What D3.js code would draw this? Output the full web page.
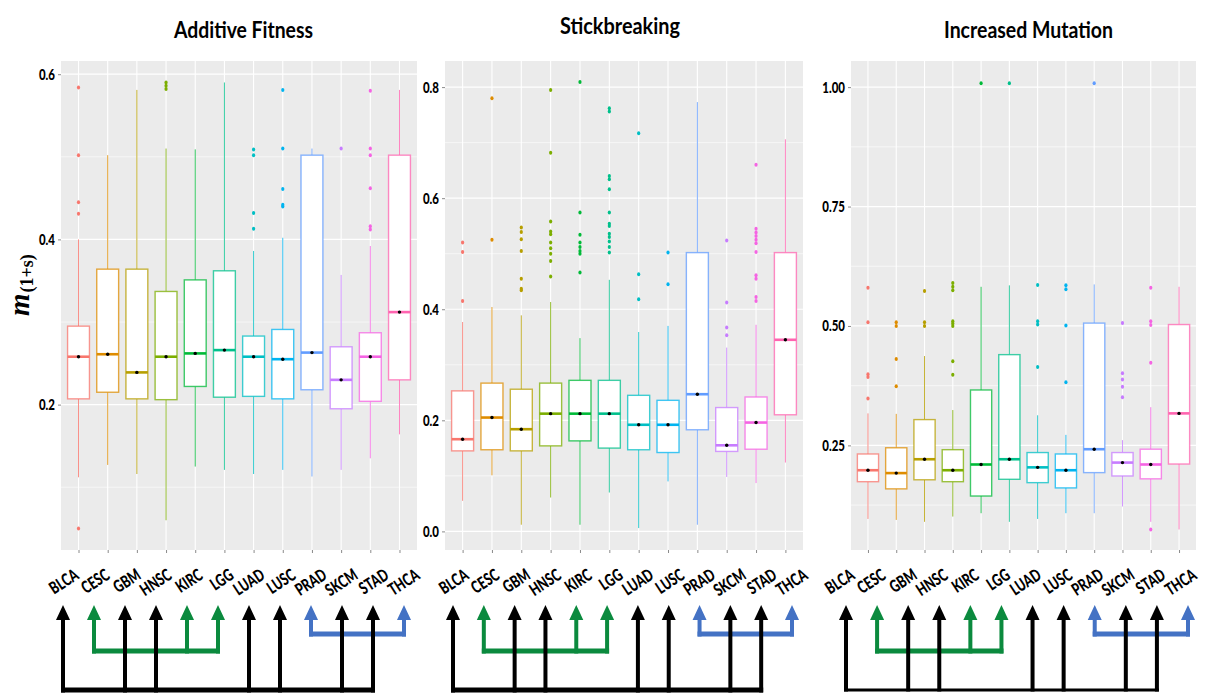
<!DOCTYPE html>
<html>
<head>
<meta charset="utf-8">
<script src="https://cdn.jsdelivr.net/npm/d3@7"></script>
<style>
  body { margin: 0; background: #fff; }
  svg { display: block; }
</style>
</head>
<body>
<svg id="chart" width="1210" height="693"></svg>
<script>
// Cancer types, in plotting order
const cancers = ["BLCA", "CESC", "GBM", "HNSC", "KIRC", "LGG", "LUAD", "LUSC", "PRAD", "SKCM", "STAD", "THCA"];
const palette = ["#F8766D", "#DE8C00", "#B79F00", "#7CAE00", "#00BA38", "#00C08B",
                 "#00BFC4", "#00B4F0", "#619CFF", "#C77CFF", "#F564E3", "#FF64B0"];

// Box statistics per cancer: [lower whisker, Q1, median, Q3, upper whisker]
const additiveStats = [
  [0.112, 0.207, 0.258, 0.295, 0.400],
  [0.127, 0.215, 0.261, 0.364, 0.502],
  [0.116, 0.207, 0.239, 0.364, 0.581],
  [0.060, 0.206, 0.258, 0.337, 0.510],
  [0.125, 0.222, 0.262, 0.351, 0.509],
  [0.121, 0.209, 0.266, 0.362, 0.590],
  [0.116, 0.210, 0.258, 0.283, 0.386],
  [0.121, 0.207, 0.255, 0.291, 0.402],
  [0.113, 0.218, 0.263, 0.502, 0.510],
  [0.121, 0.195, 0.230, 0.270, 0.357],
  [0.135, 0.204, 0.258, 0.287, 0.392],
  [0.164, 0.230, 0.312, 0.502, 0.581]
];
const additiveOutliers = [
  [0.584, 0.502, 0.445, 0.431, 0.050],
  [],
  [],
  [0.590, 0.586, 0.582],
  [],
  [],
  [0.509, 0.502, 0.432, 0.413],
  [0.581, 0.510, 0.461, 0.442, 0.440],
  [],
  [0.510],
  [0.580, 0.510, 0.502, 0.462, 0.416, 0.412],
  []
];

const stickStats = [
  [0.055, 0.145, 0.166, 0.253, 0.377],
  [0.101, 0.147, 0.205, 0.267, 0.404],
  [0.012, 0.145, 0.184, 0.256, 0.389],
  [0.061, 0.154, 0.212, 0.267, 0.413],
  [0.012, 0.163, 0.212, 0.272, 0.348],
  [0.070, 0.150, 0.212, 0.272, 0.453],
  [0.006, 0.147, 0.192, 0.245, 0.359],
  [0.090, 0.142, 0.192, 0.236, 0.370],
  [0.012, 0.183, 0.247, 0.502, 0.773],
  [0.098, 0.144, 0.155, 0.223, 0.331],
  [0.087, 0.148, 0.196, 0.242, 0.372],
  [0.124, 0.210, 0.345, 0.502, 0.706]
];
const stickOutliers = [
  [0.520, 0.503, 0.415],
  [0.780, 0.525],
  [0.547, 0.539, 0.526, 0.505, 0.455, 0.437, 0.434],
  [0.795, 0.682, 0.558, 0.540, 0.535, 0.520, 0.510, 0.500, 0.487, 0.459],
  [0.809, 0.574, 0.534, 0.520, 0.512, 0.505, 0.500, 0.466],
  [0.762, 0.756, 0.640, 0.634, 0.616, 0.574, 0.554, 0.550, 0.536, 0.530, 0.522, 0.512, 0.502],
  [0.717, 0.463, 0.418],
  [0.502, 0.445],
  [],
  [0.524, 0.412, 0.367, 0.353],
  [0.660, 0.545, 0.538, 0.532, 0.525, 0.519, 0.503, 0.461, 0.455, 0.422, 0.415],
  []
];

const mutationStats = [
  [0.096, 0.174, 0.198, 0.232, 0.317],
  [0.094, 0.159, 0.192, 0.245, 0.316],
  [0.090, 0.178, 0.221, 0.304, 0.437],
  [0.101, 0.174, 0.198, 0.241, 0.324],
  [0.108, 0.144, 0.210, 0.366, 0.582],
  [0.090, 0.179, 0.221, 0.440, 0.585],
  [0.096, 0.172, 0.204, 0.235, 0.313],
  [0.108, 0.161, 0.198, 0.232, 0.272],
  [0.108, 0.193, 0.242, 0.506, 0.587],
  [0.122, 0.186, 0.214, 0.235, 0.261],
  [0.090, 0.180, 0.210, 0.242, 0.330],
  [0.074, 0.211, 0.317, 0.503, 0.582]
];
const mutationOutliers = [
  [0.580, 0.508, 0.399, 0.393, 0.348],
  [0.508, 0.500, 0.431, 0.374],
  [0.573, 0.508, 0.500],
  [0.590, 0.582, 0.575, 0.510, 0.505, 0.500, 0.426, 0.398],
  [1.008],
  [1.008],
  [0.586, 0.510, 0.503, 0.414],
  [0.585, 0.577, 0.501, 0.382],
  [1.008],
  [0.506, 0.401, 0.388, 0.373, 0.351],
  [0.580, 0.510, 0.502, 0.423, 0.074],
  []
];

// Y-axis tick values per panel
const additiveTicks = [0.2, 0.4, 0.6];
const stickTicks = [0.0, 0.2, 0.4, 0.6, 0.8];
const mutationTicks = [0.25, 0.50, 0.75, 1.00];

// Grouping of cancer types shown by the arrow brackets under each panel
const blackGroup = ["BLCA", "GBM", "HNSC", "LUAD", "LUSC", "SKCM", "STAD"];
const greenGroup = ["CESC", "KIRC", "LGG"];
const blueGroup = ["PRAD", "THCA"];

const svg = d3.select("#chart");
const plotTop = 61, plotBottom = 550;
const FONT = "Lato, 'Open Sans', sans-serif";

const panels = [
  { title: "Additive Fitness", stats: additiveStats, outliers: additiveOutliers, ticks: additiveTicks,
    domain: [0.024, 0.616], fmt: ".1f", x0: 61, x1: 417, arrowRange: [63, 404], labelDx: 17,
    titleX: 243.5, titleY: 38, titleW: 139, blackW: 5 },
  { title: "Stickbreaking", stats: stickStats, outliers: stickOutliers, ticks: stickTicks,
    domain: [-0.0335, 0.847], fmt: ".1f", x0: 445, x1: 803, arrowRange: [453, 792], labelDx: 17,
    titleX: 620, titleY: 34, titleW: 120, blackW: 5 },
  { title: "Increased Mutation", stats: mutationStats, outliers: mutationOutliers, ticks: mutationTicks,
    domain: [0.031, 1.0547], fmt: ".2f", x0: 851, x1: 1196, arrowRange: [846, 1188], labelDx: 10,
    titleX: 1028.5, titleY: 38, titleW: 169, blackW: 3 }
];

// Squeeze text horizontally to a narrower, condensed look
function condense(sel, k) {
  sel.each(function () {
    const len = this.getComputedTextLength();
    d3.select(this).attr("textLength", len * k).attr("lengthAdjust", "spacingAndGlyphs");
  });
}

const color = d3.scaleOrdinal().domain(cancers).range(palette);

panels.forEach(p => {
  const g = svg.append("g");
  const x = d3.scalePoint().domain(cancers).range([p.x0, p.x1]).padding(0.6);
  const y = d3.scaleLinear().domain(p.domain).range([plotBottom, plotTop]);
  const bw = x.step() * 0.75;

  // panel background
  g.append("rect")
    .attr("x", p.x0).attr("y", plotTop)
    .attr("width", p.x1 - p.x0).attr("height", plotBottom - plotTop)
    .attr("fill", "#EBEBEB");

  // minor gridlines halfway between major ticks
  const step = p.ticks[1] - p.ticks[0];
  const minor = d3.range(p.ticks.length + 1)
    .map(i => p.ticks[0] - step / 2 + i * step)
    .filter(v => v > p.domain[0] && v < p.domain[1]);
  g.selectAll(".minor").data(minor).join("line")
    .attr("x1", p.x0).attr("x2", p.x1)
    .attr("y1", d => y(d)).attr("y2", d => y(d))
    .attr("stroke", "#fff").attr("stroke-width", 0.6);

  // major gridlines
  g.selectAll(".major").data(p.ticks).join("line")
    .attr("x1", p.x0).attr("x2", p.x1)
    .attr("y1", d => y(d)).attr("y2", d => y(d))
    .attr("stroke", "#fff").attr("stroke-width", 1.2);
  g.selectAll(".vgrid").data(cancers).join("line")
    .attr("x1", d => x(d)).attr("x2", d => x(d))
    .attr("y1", plotTop).attr("y2", plotBottom)
    .attr("stroke", "#fff").attr("stroke-width", 1.1);

  // y axis
  const yAxis = g.append("g")
    .attr("transform", `translate(${p.x0},0)`)
    .call(d3.axisLeft(y).tickValues(p.ticks).tickFormat(d3.format(p.fmt)).tickSize(3).tickPadding(3));
  yAxis.select(".domain").remove();
  yAxis.selectAll(".tick line").attr("stroke", "#8a8a8a");
  yAxis.selectAll(".tick text")
    .attr("fill", "#000").attr("font-family", FONT)
    .attr("font-weight", "900").attr("font-size", 15.5)
    .call(condense, 0.74);

  // x axis ticks (labels are placed with the bracket annotation below)
  const xAxis = g.append("g")
    .attr("transform", `translate(0,${plotBottom})`)
    .call(d3.axisBottom(x).tickSize(3).tickFormat(""));
  xAxis.select(".domain").remove();
  xAxis.selectAll(".tick line").attr("stroke", "#8a8a8a");

  const rows = cancers.map((c, i) => ({
    c, lo: p.stats[i][0], q1: p.stats[i][1], med: p.stats[i][2], q3: p.stats[i][3], hi: p.stats[i][4],
    out: p.outliers[i]
  }));

  const box = g.selectAll(".box").data(rows).join("g");
  // whiskers
  box.append("line")
    .attr("x1", d => x(d.c)).attr("x2", d => x(d.c))
    .attr("y1", d => y(d.hi)).attr("y2", d => y(d.q3))
    .attr("stroke", d => color(d.c)).attr("stroke-width", 1).attr("stroke-opacity", 0.8);
  box.append("line")
    .attr("x1", d => x(d.c)).attr("x2", d => x(d.c))
    .attr("y1", d => y(d.q1)).attr("y2", d => y(d.lo))
    .attr("stroke", d => color(d.c)).attr("stroke-width", 1).attr("stroke-opacity", 0.8);
  // box body
  box.append("rect")
    .attr("x", d => x(d.c) - bw / 2).attr("width", bw)
    .attr("y", d => y(d.q3)).attr("height", d => y(d.q1) - y(d.q3))
    .attr("fill", "#fff").attr("stroke", d => color(d.c))
    .attr("stroke-width", 1.4).attr("stroke-opacity", 0.75);
  // median
  box.append("line")
    .attr("x1", d => x(d.c) - bw / 2).attr("x2", d => x(d.c) + bw / 2)
    .attr("y1", d => y(d.med)).attr("y2", d => y(d.med))
    .attr("stroke", d => color(d.c)).attr("stroke-width", 2.6);
  box.append("circle")
    .attr("cx", d => x(d.c)).attr("cy", d => y(d.med)).attr("r", 1.7)
    .attr("fill", "#000");
  // outliers
  box.each(function (d) {
    d3.select(this).selectAll("ellipse.out").data(d.out).join("ellipse")
      .attr("class", "out")
      .attr("cx", x(d.c)).attr("cy", v => y(v)).attr("rx", 1.6).attr("ry", 2)
      .attr("fill", color(d.c));
  });

  // title
  g.append("text")
    .attr("x", p.titleX).attr("y", p.titleY)
    .attr("text-anchor", "middle")
    .attr("font-family", FONT).attr("font-weight", "bold").attr("font-size", 23)
    .attr("fill", "#000")
    .attr("textLength", p.titleW).attr("lengthAdjust", "spacingAndGlyphs")
    .text(p.title);

  // bracket annotation: category labels and arrows
  const ann = d3.scalePoint().domain(cancers).range(p.arrowRange);
  g.selectAll(".xlab").data(cancers).join("text")
    .attr("transform", d => `translate(${ann(d) + p.labelDx},578) rotate(-33)`)
    .attr("text-anchor", "end")
    .attr("font-family", FONT).attr("font-weight", "900").attr("font-size", 17)
    .attr("fill", "#000")
    .text(d => d)
    .call(condense, 0.72);

  const tipY = 605, headH = 15, headW = 14, shaftW = 4;
  const groups = [
    { members: greenGroup, color: "#0B8A3E", barY: 651, barW: 5 },
    { members: blueGroup, color: "#4472C4", barY: 634, barW: 5 },
    { members: blackGroup, color: "#000", barY: 690, barW: p.blackW }
  ];
  groups.forEach(grp => {
    const ag = g.append("g").attr("fill", grp.color);
    const xs = grp.members.map(m => ann(m));
    ag.append("rect")
      .attr("x", d3.min(xs) - shaftW / 2).attr("width", d3.max(xs) - d3.min(xs) + shaftW)
      .attr("y", grp.barY - grp.barW / 2).attr("height", grp.barW);
    ag.selectAll(".shaft").data(grp.members).join("rect")
      .attr("x", m => ann(m) - shaftW / 2).attr("width", shaftW)
      .attr("y", tipY + headH - 1).attr("height", grp.barY + grp.barW / 2 - (tipY + headH - 1));
    ag.selectAll(".head").data(grp.members).join("path")
      .attr("d", m => {
        const ax = ann(m);
        return `M${ax},${tipY}L${ax - headW / 2},${tipY + headH}L${ax + headW / 2},${tipY + headH}Z`;
      });
  });
});

// y-axis title: m with subscript (1+s)
svg.append("text")
  .attr("transform", "translate(29,316) rotate(-90)")
  .attr("font-family", "'Liberation Serif', 'DejaVu Serif', serif")
  .attr("font-weight", "bold")
  .attr("fill", "#000")
  .call(t => {
    t.append("tspan").attr("font-style", "italic").attr("font-size", 29).text("m");
    t.append("tspan").attr("font-size", 18).attr("dy", 4).attr("dx", 1).text("(1+s)");
  });
</script>
</body>
</html>
